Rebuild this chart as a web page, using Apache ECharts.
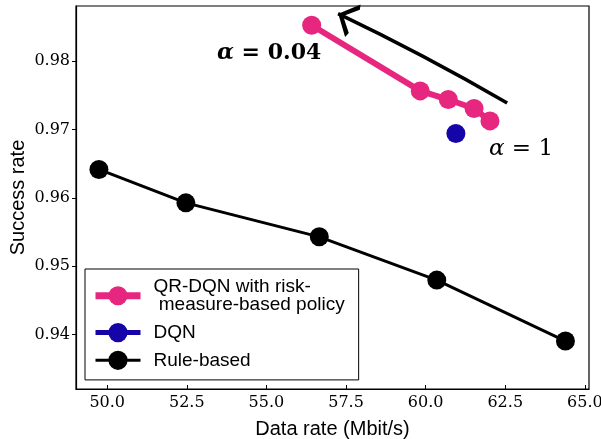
<!DOCTYPE html>
<html>
<head>
<meta charset="utf-8">
<script src="https://cdn.jsdelivr.net/npm/echarts@6/dist/echarts.min.js"></script>
<style>
html,body{margin:0;padding:0;background:#fff;}
#chart{width:601px;height:439px;}
</style>
</head>
<body>
<div id="chart"></div>
<script>
// ---- data ----
const qrX = [56.42, 59.83, 60.71, 61.52, 62.02];
const qrY = [0.98526, 0.97566, 0.97440, 0.97308, 0.97127];
const dqnX = [60.95];
const dqnY = [0.96943];
const ruleX = [49.74, 52.47, 56.66, 60.35, 64.39];
const ruleY = [0.96417, 0.95928, 0.95431, 0.94798, 0.93906];
const xTicks = [50.0, 52.5, 55.0, 57.5, 60.0, 62.5, 65.0];
const yTicks = [0.94, 0.95, 0.96, 0.97, 0.98];
const arrowFrom = [62.56, 0.97390];
const arrowTo = [57.25, 0.98697];
const seriesNames = ['QR-DQN with risk-\n measure-based policy', 'DQN', 'Rule-based'];

const zip = (xs, ys) => xs.map((x, i) => [x, ys[i]]);
const serif = 'DejaVu Serif';
const sans = 'Liberation Sans';
const pink = '#e6267f';
const blue = '#1505a8';

const chart = echarts.init(document.getElementById('chart'), null, {renderer: 'canvas'});
chart.setOption({
  animation: false,
  backgroundColor: '#fff',
  grid: {left: 76, right: 12, top: 6, bottom: 50, show: true, borderColor: '#000', borderWidth: 1.2,
    containLabel: false, outerBoundsMode: 'none'},
  xAxis: {
    type: 'value', min: 49.02, max: 65.13,
    name: 'Data rate (Mbit/s)', nameLocation: 'middle', nameGap: 30,
    nameTextStyle: {fontFamily: sans, fontSize: 20, color: '#000'},
    splitLine: {show: false},
    axisLine: {show: true, onZero: false, lineStyle: {color: '#000', width: 1.2}},
    axisTick: {show: true, inside: true, length: 4, customValues: xTicks, lineStyle: {color: '#000'}},
    axisLabel: {customValues: xTicks, margin: 6, fontFamily: serif, fontSize: 16, color: '#000',
      formatter: v => v.toFixed(1)}
  },
  yAxis: {
    type: 'value', min: 0.93205, max: 0.98808,
    name: 'Success rate', nameLocation: 'middle', nameGap: 48, nameRotate: 90, nameMoveOverlap: false,
    nameTextStyle: {fontFamily: sans, fontSize: 20, color: '#000'},
    splitLine: {show: false},
    axisLine: {show: true, onZero: false, lineStyle: {color: '#000', width: 1.2}},
    axisTick: {show: true, inside: false, length: 4, customValues: yTicks, lineStyle: {color: '#000'}},
    axisLabel: {customValues: yTicks, margin: 6, fontFamily: serif, fontSize: 16, color: '#000',
      formatter: v => v.toFixed(2)}
  },
  legend: {
    data: [
      {name: seriesNames[0], lineStyle: {width: 7}},
      {name: seriesNames[1], lineStyle: {width: 5}},
      {name: seriesNames[2], lineStyle: {width: 3}}
    ],
    orient: 'vertical', left: 85, top: 269,
    backgroundColor: '#fff', borderColor: '#000', borderWidth: 1, borderRadius: 0,
    padding: [8, 14, 10, 7],
    itemWidth: 45, itemHeight: 24, itemGap: 8.5,
    textStyle: {fontFamily: sans, fontSize: 19, color: '#000', lineHeight: 18.5, padding: [0, 0, 0, 8]}
  },
  series: [
    {
      name: seriesNames[2], type: 'line', data: zip(ruleX, ruleY),
      color: '#000', lineStyle: {width: 3, color: '#000'},
      symbol: 'circle', symbolSize: 19, itemStyle: {color: '#000'}, z: 2
    },
    {
      name: seriesNames[1], type: 'line', data: zip(dqnX, dqnY),
      color: blue, lineStyle: {width: 4, color: blue},
      symbol: 'circle', symbolSize: 19, itemStyle: {color: blue}, z: 3
    },
    {
      name: seriesNames[0], type: 'line', data: zip(qrX, qrY),
      color: pink, lineStyle: {width: 6, color: pink},
      symbol: 'circle', symbolSize: 19, itemStyle: {color: pink}, z: 4
    },
    {
      name: 'arrow', type: 'lines', coordinateSystem: 'cartesian2d', silent: true, z: 5,
      symbol: ['none', 'path://M9,-18L9.01,-18L9,-17.99ZM9,0L18,16L15.4,17.6L9,5.4L2.6,17.6L0,16Z'],
      symbolSize: [18, 36],
      lineStyle: {color: '#000', width: 3.5, curveness: -0.02, opacity: 1},
      data: [{coords: [arrowFrom, arrowTo]}]
    }
  ],
  graphic: [
    {
      type: 'text', left: 217, top: 42, silent: true,
      style: {
        text: '{a|α} = 0.04',
        font: 'bold 22px "DejaVu Serif"', fill: '#000',
        rich: {a: {fontFamily: serif, fontSize: 22, fontWeight: 'bold', fontStyle: 'italic', fill: '#000'}}
      }
    },
    {
      type: 'text', left: 489, top: 138, silent: true,
      style: {
        text: '{a|α} = 1',
        font: '23px "DejaVu Serif"', fill: '#000',
        rich: {a: {fontFamily: serif, fontSize: 23, fontStyle: 'italic', fill: '#000'}}
      }
    }
  ]
});
</script>
</body>
</html>
